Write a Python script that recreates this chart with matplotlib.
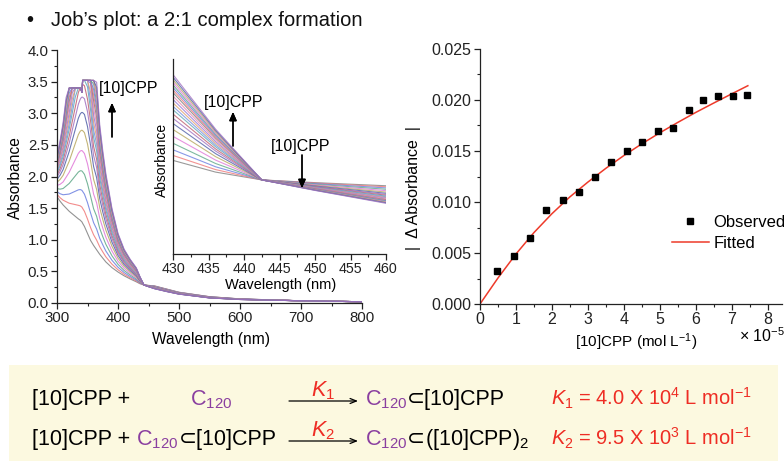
import numpy as np
import matplotlib
matplotlib.use("Agg")
import matplotlib.pyplot as plt
from matplotlib.ticker import MultipleLocator, FormatStrFormatter
from matplotlib.patches import Rectangle

plt.rcParams['font.family'] = ['Liberation Sans', 'DejaVu Sans']
plt.rcParams['mathtext.fontset'] = 'custom'
plt.rcParams['mathtext.rm'] = 'Liberation Sans'
plt.rcParams['mathtext.it'] = 'Liberation Sans:italic'
plt.rcParams['mathtext.bf'] = 'Liberation Sans:bold'

W, H = 784, 461

# ---- UV-vis titration spectra ----
wavelength = [300, 305, 310, 315, 320, 325, 330, 335, 338, 340, 341, 342, 345,
              350, 355, 360, 365, 370, 375, 380, 390, 400, 410, 420, 430, 436,
              442.5, 450, 460, 480, 500, 550, 600, 700, 800]
# spectrum before any [10]CPP is added
abs_start = [1.68, 1.61, 1.55, 1.50, 1.45, 1.41, 1.37, 1.33, 1.31, 1.29, 1.28, 1.26, 1.21,
             1.10, 0.99, 0.91, 0.84, 0.77, 0.71, 0.65, 0.56, 0.49, 0.43, 0.38, 0.335, 0.305,
             0.285, 0.278, 0.270, 0.22, 0.17, 0.10, 0.065, 0.035, 0.02]
# absorbance change at the last titration point
abs_change = [0.64, 0.95, 1.30, 1.75, 2.20, 2.70, 3.20, 3.70, 3.90, 4.00, 4.03, 4.07, 4.12,
              3.93, 3.50, 2.90, 2.65, 2.05, 1.70, 1.40, 0.94, 0.61, 0.42, 0.31, 0.22, 0.11,
              0.0, -0.02, -0.045, -0.04, -0.03, -0.02, -0.01, 0.0, 0.0]
# detector ceiling of the spectrometer
detector_limit = [3.40, 3.40, 3.40, 3.40, 3.40, 3.40, 3.40, 3.40, 3.40, 3.36, 3.33, 3.52, 3.52,
                  3.52, 3.52, 3.52, 3.52, 3.52, 3.52, 3.52, 3.52, 3.52, 3.52, 3.52, 3.52, 3.52,
                  3.52, 3.52, 3.52, 3.52, 3.52, 3.52, 3.52, 3.52, 3.52]
# fraction of total [10]CPP added at each spectrum
titration_fraction = [0.0, 0.058, 0.124, 0.20, 0.28, 0.36, 0.43, 0.49, 0.54, 0.59, 0.63,
                      0.67, 0.71, 0.75, 0.79, 0.82, 0.85, 0.88, 0.91, 0.94, 0.97, 1.0]

line_colors = ['#808080', '#f07878', '#6b7fe0', '#5fa888', '#e078d8', '#b8a860',
               '#5060a8', '#a070c0', '#c06070', '#60a8b8', '#7890e0', '#e0a070',
               '#9878d8', '#e888b0']

# ---- Job's plot binding isotherm ----
conc_obs = [0.46, 0.935, 1.38, 1.83, 2.30, 2.75, 3.20, 3.63, 4.08, 4.51, 4.94, 5.38,
            5.80, 6.20, 6.62, 7.04, 7.44]
dabs_obs = [0.00324, 0.00467, 0.0065, 0.00922, 0.01016, 0.01098, 0.01248, 0.01395,
            0.0150, 0.01591, 0.01696, 0.01729, 0.01902, 0.0200, 0.02036, 0.02039, 0.02052]
conc_fit = [0, 0.5, 1.0, 1.5, 2.0, 2.5, 3.0, 3.5, 4.0, 4.5, 5.0, 5.5, 6.0, 6.5, 7.0, 7.45]
dabs_fit = [0, 0.00255, 0.00490, 0.00700, 0.00885, 0.01050, 0.01195, 0.01330, 0.01455,
            0.01570, 0.01678, 0.01780, 0.01878, 0.01970, 0.02060, 0.02140]


def rect(l, t, r, b):
    return [l / W, 1 - b / H, (r - l) / W, (b - t) / H]


def fp(x, y):
    return (x / W, 1 - y / H)


def style_axes(ax, size):
    for s in ('top', 'right'):
        ax.spines[s].set_visible(False)
    for s in ('left', 'bottom'):
        ax.spines[s].set_linewidth(0.9)
        ax.spines[s].set_color('#222222')
    ax.tick_params(which='major', direction='out', length=4, width=0.9,
                   labelsize=size, colors='#222222', pad=2)
    ax.tick_params(which='minor', direction='out', length=2.2, width=0.8, colors='#222222')


fig = plt.figure(figsize=(W / 100, H / 100), dpi=100)

wl = np.array(wavelength)
a0 = np.array(abs_start)
da = np.array(abs_change)
lim = np.array(detector_limit)

# main spectra
ax = fig.add_axes(rect(57, 50, 362, 303))
for i, f in enumerate(titration_fraction):
    ax.plot(wl, np.minimum(a0 + f * da, lim), color=line_colors[i % len(line_colors)],
            lw=0.8, alpha=0.85)
ax.set_xlim(300, 800)
ax.set_ylim(0, 4.0)
ax.xaxis.set_major_locator(MultipleLocator(100))
ax.xaxis.set_minor_locator(MultipleLocator(50))
ax.yaxis.set_major_locator(MultipleLocator(0.5))
ax.yaxis.set_minor_locator(MultipleLocator(0.25))
ax.yaxis.set_major_formatter(FormatStrFormatter('%.1f'))
style_axes(ax, 10.8)
ax.patch.set_alpha(0)

# inset: isosbestic region
axi = fig.add_axes(rect(173, 59, 386, 254))
for i, f in enumerate(titration_fraction):
    axi.plot(wl, a0 + f * da, color=line_colors[i % len(line_colors)], lw=0.8, alpha=0.8)
axi.set_xlim(430, 460)
axi.set_ylim(0.095, 0.595)
axi.xaxis.set_major_locator(MultipleLocator(5))
axi.xaxis.set_minor_locator(MultipleLocator(2.5))
axi.set_yticks([])
style_axes(axi, 10.3)
axi.patch.set_alpha(0)

# binding isotherm
axr = fig.add_axes(rect(480, 49, 782, 304))
axr.plot(conc_fit, dabs_fit, color='#ee3a2a', lw=1.1, label='Fitted', zorder=2)
axr.plot(conc_obs, dabs_obs, 's', color='black', ms=4, label='Observed', zorder=3)
axr.set_xlim(0, 8.4)
axr.set_ylim(0, 0.025)
axr.xaxis.set_major_locator(MultipleLocator(1))
axr.xaxis.set_minor_locator(MultipleLocator(0.5))
axr.yaxis.set_major_locator(MultipleLocator(0.005))
axr.yaxis.set_minor_locator(MultipleLocator(0.0025))
axr.yaxis.set_major_formatter(FormatStrFormatter('%.3f'))
style_axes(axr, 11.5)
axr.patch.set_alpha(0)
h, l = axr.get_legend_handles_labels()
axr.legend([h[1], h[0]], [l[1], l[0]], loc='upper left',
           bbox_to_anchor=fp(672, 215), bbox_transform=fig.transFigure,
           frameon=False, fontsize=12, handlelength=2.2, handletextpad=0.3,
           borderpad=0, borderaxespad=0, labelspacing=0.35)

# labels
fig.text(*fp(27, 20), '•   Job’s plot: a 2:1 complex formation', fontsize=14.5,
         va='center', ha='left', color='#111111')
fig.text(*fp(15, 178), 'Absorbance', rotation=90, fontsize=11.2, va='center', ha='center')
fig.text(*fp(211, 339), 'Wavelength (nm)', fontsize=11.2, va='center', ha='center')
fig.text(*fp(162, 160), 'Absorbance', rotation=90, fontsize=10, va='center', ha='center')
fig.text(*fp(281, 285), 'Wavelength (nm)', fontsize=10.5, va='center', ha='center')
fig.text(*fp(414, 188), '|  Δ Absorbance  |', rotation=90, fontsize=11.5,
         va='center', ha='center')
fig.text(*fp(636, 342), '[10]CPP (mol L$^{\\mathregular{-1}}$)', fontsize=11,
         va='center', ha='center')
fig.text(*fp(762, 336), '× 10$^{\\mathregular{-5}}$', fontsize=11.5, va='center', ha='center')

# titration direction arrows
arrow = dict(arrowstyle='-|>,head_width=0.22,head_length=0.5', color='black', lw=1.0,
             shrinkA=0, shrinkB=0)
fig.text(*fp(99, 89), '[10]CPP', fontsize=11.5, va='center', ha='left')
fig.add_artist(plt.annotate('', xy=fp(112, 103), xytext=fp(112, 137),
                            xycoords='figure fraction', arrowprops=arrow))
fig.text(*fp(204, 102), '[10]CPP', fontsize=11.5, va='center', ha='left')
fig.add_artist(plt.annotate('', xy=fp(233, 112), xytext=fp(233, 146),
                            xycoords='figure fraction', arrowprops=arrow))
fig.text(*fp(271, 146), '[10]CPP', fontsize=11.5, va='center', ha='left')
fig.add_artist(plt.annotate('', xy=fp(302, 188), xytext=fp(302, 155),
                            xycoords='figure fraction', arrowprops=arrow))

# equilibrium scheme box
fig.patches.append(Rectangle(fp(9, 461), 769 / W, 96 / H, transform=fig.transFigure,
                             facecolor='#fcf9e0', edgecolor='none', zorder=0))

purple = '#8a3fa0'
red = '#ee2d24'
eq_size = 15.5
fig.canvas.draw()
renderer = fig.canvas.get_renderer()


def chain(x, y, pieces, size=eq_size, ha='left'):
    for txt, col in pieces:
        t = fig.text(*fp(x, y), txt, color=col, fontsize=size, va='baseline', ha=ha)
        bb = t.get_window_extent(renderer)
        x = bb.x1
    return x


C120 = 'C$_{\\mathregular{120}}$'
y1, y2 = 405, 445
chain(32, y1, [('[10]CPP +', 'black')])
chain(190, y1, [(C120, purple)])
chain(365, y1, [(C120, purple), ('⊂[10]CPP', 'black')])
chain(752, y1, [('$\\mathit{K}_{\\mathregular{1}}$ = 4.0 X 10$^{\\mathregular{4}}$ L mol$^{\\mathregular{-1}}$', red)],
      size=14.5, ha='right')

chain(32, y2, [('[10]CPP + ', 'black'), (C120, purple), ('⊂[10]CPP', 'black')])
chain(365, y2, [(C120, purple), ('⊂', 'black'),
                ('$\\mathregular{([10]CPP)}_{\\mathregular{2}}$', 'black')])
chain(752, y2, [('$\\mathit{K}_{\\mathregular{2}}$ = 9.5 X 10$^{\\mathregular{3}}$ L mol$^{\\mathregular{-1}}$', red)],
      size=14.5, ha='right')

rxn_arrow = dict(arrowstyle='->,head_width=0.18,head_length=0.45', color='black', lw=0.9,
                 shrinkA=0, shrinkB=0)
for yy, k in ((y1, '1'), (y2, '2')):
    fig.add_artist(plt.annotate('', xy=fp(358, yy - 4), xytext=fp(289, yy - 4),
                                xycoords='figure fraction', arrowprops=rxn_arrow))
    fig.text(*fp(323, yy - 9), '$\\mathit{K}_{\\mathregular{%s}}$' % k, color=red,
             fontsize=eq_size, ha='center', va='baseline')

fig.savefig('out.png', dpi=100)
